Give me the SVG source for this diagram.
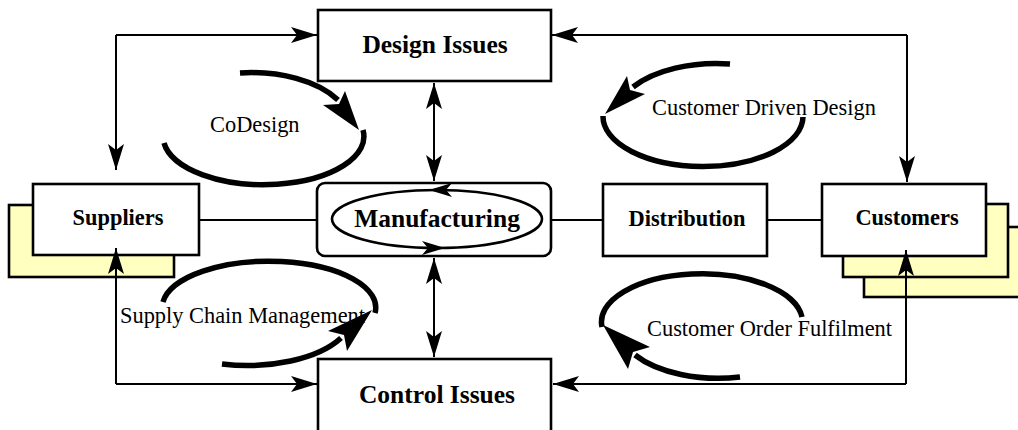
<svg xmlns="http://www.w3.org/2000/svg" width="1018" height="430" viewBox="0 0 1018 430">
  <style>
    .box { fill: #ffffff; stroke: #000000; stroke-width: 2.6; }
    .shadow { fill: #ffffc0; stroke: #000000; stroke-width: 2.6; }
    .title { font-family: "Liberation Serif", "Times New Roman", serif; font-weight: bold; fill: #000000; text-anchor: middle; }
    .big { font-size: 25.5px; }
    .mid { font-size: 22.4px; }
    .note { font-family: "Liberation Serif", "Times New Roman", serif; font-size: 22.4px; fill: #000000; }
    .link { fill: none; stroke: #000000; stroke-width: 2; }
    .arrowed { marker-end: url(#ah); }
    .both { marker-start: url(#ah); marker-end: url(#ah); }
    .cycle { fill: none; stroke: #000000; stroke-width: 5.5; }
    .head { fill: #000000; stroke: none; }
  </style>
  <defs>
    <marker id="ah" markerUnits="userSpaceOnUse" markerWidth="26" markerHeight="18" viewBox="0 0 26 18" refX="26" refY="9" orient="auto-start-reverse">
      <path d="M0,1 L26,9 L0,17 L6,9 Z" fill="#000000"/>
    </marker>
  </defs>
  <rect width="1018" height="430" fill="#ffffff"/>

  <!-- nodes -->
  <g id="design-issues">
    <rect class="box" x="318" y="10" width="233" height="71"/>
    <text class="title big" x="435" y="53">Design Issues</text>
  </g>

  <g id="suppliers">
    <rect class="shadow" x="9" y="205" width="165" height="72"/>
    <rect class="box" x="33" y="184" width="166" height="71"/>
    <text class="title mid" x="118" y="225">Suppliers</text>
  </g>

  <g id="manufacturing">
    <rect class="box" x="317" y="183" width="234" height="73" rx="8" ry="8"/>
    <ellipse cx="437" cy="219" rx="105" ry="29" fill="none" stroke="#000000" stroke-width="2.6"/>
    <path class="head" d="M429,190 L452,183 L446,190 L452,197 Z"/>
    <path class="head" d="M445,248 L422,241 L428,248 L422,255 Z"/>
    <text class="title big" x="437" y="227">Manufacturing</text>
  </g>

  <g id="distribution">
    <rect class="box" x="603" y="184" width="164" height="72"/>
    <text class="title mid" x="687" y="226">Distribution</text>
  </g>

  <g id="customers">
    <rect class="shadow" x="864" y="227" width="170" height="70"/>
    <rect class="shadow" x="843" y="204" width="165" height="73"/>
    <rect class="box" x="822" y="184" width="164" height="72"/>
    <text class="title mid" x="907" y="225">Customers</text>
  </g>

  <g id="control-issues">
    <rect class="box" x="318" y="359" width="233" height="80"/>
    <text class="title big" x="437" y="403">Control Issues</text>
  </g>

  <!-- straight connectors, drawn over the stacked boxes -->
  <g id="connectors">
    <path class="link arrowed" d="M116,35 L317,35"/>
    <path class="link arrowed" d="M116,35 L116,170"/>
    <path class="link arrowed" d="M907,35 L552,35"/>
    <path class="link arrowed" d="M907,35 L907,182"/>
    <path class="link both" d="M434,83 L434,181"/>
    <path class="link both" d="M434,258 L434,357"/>
    <path class="link" d="M199,220 L317,220"/>
    <path class="link" d="M551,220 L603,220"/>
    <path class="link" d="M767,220 L822,220"/>
    <path class="link arrowed" d="M116,384 L116,248"/>
    <path class="link arrowed" d="M116,384 L317,384"/>
    <path class="link arrowed" d="M906,384 L906,250"/>
    <path class="link arrowed" d="M906,384 L553,384"/>
  </g>

  <!-- cycle labels -->
  <g id="labels">
    <text class="note" x="210" y="132">CoDesign</text>
    <text class="note" x="652" y="115">Customer Driven Design</text>
    <text class="note" x="120" y="323">Supply Chain Management</text>
    <text class="note" x="647" y="336">Customer Order Fulfilment</text>
  </g>

  <!-- cycle arrows -->
  <g id="cycles">
    <g id="codesign-cycle">
      <path class="cycle" d="M240,73 A100,55 0 0 1 338,100"/>
      <path class="head" d="M359,130 L345,91 L339,104 L323,105 Z"/>
      <path class="cycle" d="M363,130 A100,48 0 0 1 164,143"/>
    </g>
    <g id="customer-design-cycle">
      <path class="cycle" d="M730,64 A100,53 0 0 0 633,87"/>
      <path class="head" d="M605,114 L627,76 L630,90 L645,94 Z"/>
      <path class="cycle" d="M603,116 A100,50 0 0 0 803,117"/>
    </g>
    <g id="supply-chain-cycle">
      <path class="cycle" d="M163,302 A106,46 0 0 1 375,313"/>
      <path class="cycle" d="M222,364 A106,52 0 0 0 341,338"/>
      <path class="head" d="M372,310 L347,351 L344,335 L328,331 Z"/>
    </g>
    <g id="order-fulfilment-cycle">
      <path class="cycle" d="M802,317 A100,48 0 0 0 602,327"/>
      <path class="cycle" d="M740,377 A100,52 0 0 1 635,355"/>
      <path class="head" d="M603,325 L650,347 L633,352 L628,369 Z"/>
    </g>
  </g>
</svg>
